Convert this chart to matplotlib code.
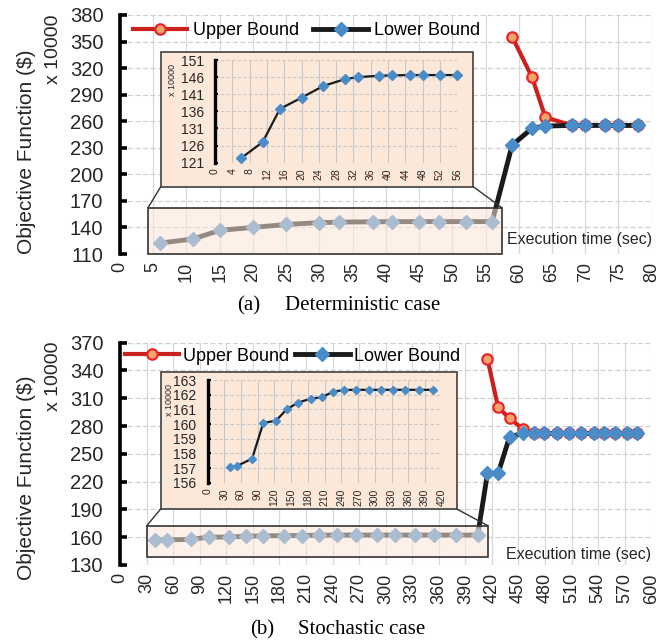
import numpy as np
import matplotlib.pyplot as plt
from matplotlib.patches import Rectangle, ConnectionPatch
from matplotlib.colors import to_rgb

plt.rcParams['font.family'] = ['Liberation Sans', 'DejaVu Sans']

# (a) deterministic case, objective x 10000 $
det_lb_x = [6, 11, 15, 20, 25, 30, 33, 38, 41, 45, 48, 52, 56, 59, 62, 64, 68, 70, 73, 75, 78]
det_lb_y = [122.3, 127.0, 136.7, 140.0, 143.4, 145.4, 146.0, 146.4, 146.5, 146.6, 146.6, 146.6, 146.6,
            233.0, 252.0, 254.5, 255.3, 255.3, 255.3, 255.3, 255.3]
det_ub_x = [59, 62, 64, 68, 70, 73, 75, 78]
det_ub_y = [355.5, 309.6, 264.4, 255.3, 255.3, 255.3, 255.3, 255.3]
det_n_zoom = 13

# (b) stochastic case
sto_lb_x = [40, 53, 80, 100, 123, 142, 162, 185, 205, 225, 245, 267, 290, 311, 333, 355, 380, 404,
            415, 427, 440, 455, 467, 479, 493, 507, 521, 535, 547, 559, 572, 584]
sto_lb_y = [157.05, 157.14, 157.64, 160.07, 160.23, 161.0, 161.45, 161.73, 161.82, 162.2, 162.32,
            162.33, 162.33, 162.33, 162.33, 162.33, 162.33, 162.33,
            229.0, 229.0, 268.5, 272.0, 272.0, 272.0, 272.0, 272.0, 272.0, 272.0, 272.0, 272.0, 272.0, 272.0]
sto_ub_x = [415, 427, 440, 455, 467, 479, 493, 507, 521, 535, 547, 559, 572, 584]
sto_ub_y = [352.4, 300.2, 288.3, 276.8, 272.0, 272.0, 272.0, 272.0, 272.0, 272.0, 272.0, 272.0, 272.0, 272.0]
sto_n_zoom = 18

det_xticks = np.arange(0, 81, 5)
det_yticks = np.arange(110, 381, 30)
det_in_xticks = np.arange(0, 57, 4)
det_in_yticks = np.arange(121, 152, 5)
sto_xticks = np.arange(0, 601, 30)
sto_yticks = np.arange(130, 371, 30)
sto_in_xticks = np.arange(0, 421, 30)
sto_in_yticks = np.arange(156, 164, 1)

W, H = 670, 644
PEACH = '#fbe5d6'
TXT = '#262626'

fig = plt.figure(figsize=(6.7, 6.44), dpi=100)


def fx(px):
    return px / W


def fy(py):
    return 1 - py / H


def main_panel(px_box, xticks, yticks, lb_x, lb_y, ub_x, ub_y, zoom, leg_anchor, leg_pad, leg_col, exec_y):
    x0, y0, x1, y1 = px_box
    ax = fig.add_axes([fx(x0), fy(y1), fx(x1) - fx(x0), fy(y0) - fy(y1)])
    ax.set_xlim(xticks[0], xticks[-1])
    ax.set_ylim(yticks[0], yticks[-1])
    ax.set_xticks(xticks)
    ax.set_yticks(yticks)
    for x in xticks:
        ax.axvline(x, color='#d9d9d9', lw=0.9, zorder=0)
    for y in yticks:
        ax.axhline(y, color='#d0d0d0', lw=0.9, ls=(0, (4, 2)), zorder=0)
    for s in ['top', 'right', 'bottom']:
        ax.spines[s].set_visible(False)
    ax.spines['left'].set_linewidth(2.6)
    ax.tick_params(axis='y', direction='in', length=5, width=2.6, labelsize=14.5, pad=12, labelcolor=TXT)
    ax.tick_params(axis='x', length=0, labelsize=13, pad=6, labelrotation=90, labelcolor=TXT)

    ax.plot(ub_x, ub_y, color='#c9211e', lw=3, marker='o', ms=7.5, mfc='#f4a46c', mec='#e8262a',
            mew=1.6, zorder=3, label='Upper Bound', clip_on=False)
    ax.plot(lb_x, lb_y, color='#1a1a1a', lw=3.5, marker='D', ms=7, mfc='#4a8cc8', mec='#4a8cc8',
            zorder=4, label='Lower Bound', clip_on=False)

    zx0, zy0, zx1, zy1 = zoom
    ax.add_patch(Rectangle((zx0, zy0), zx1 - zx0, zy1 - zy0, facecolor=(*to_rgb(PEACH), 0.55),
                           edgecolor='#333333', lw=1.2, zorder=5, clip_on=False))

    ax.legend(loc='upper left', bbox_to_anchor=leg_anchor, ncol=2, frameon=False, fontsize=13,
              handlelength=3.0, handletextpad=leg_pad, columnspacing=leg_col, borderaxespad=0,
              borderpad=0)
    ax.text(1.0, exec_y, 'Execution time (sec)', transform=ax.transAxes, ha='right', va='center',
            fontsize=11.5, color=TXT)
    return ax


def inset_panel(ax, px_box, px_axes, zoom, xticks, yticks, xs, ys, ms):
    bx0, by0, bx1, by1 = px_box
    fig.add_artist(Rectangle((fx(bx0), fy(by1)), fx(bx1) - fx(bx0), fy(by0) - fy(by1),
                             transform=fig.transFigure, facecolor='#fce8d8', edgecolor='#404040',
                             lw=1.2, zorder=2))
    zx0, zy0, zx1, zy1 = zoom
    for bx, zx in [(bx0, zx0), (bx1, zx1)]:
        fig.add_artist(ConnectionPatch(xyA=(fx(bx), fy(by1)), coordsA=fig.transFigure,
                                       xyB=(zx, zy1), coordsB=ax.transData,
                                       color='#333333', lw=1.0, zorder=2))
    x0, y0, x1, y1 = px_axes
    iax = fig.add_axes([fx(x0), fy(y1), fx(x1) - fx(x0), fy(y0) - fy(y1)], zorder=3)
    iax.patch.set_visible(False)
    iax.set_xlim(xticks[0], xticks[-1])
    iax.set_ylim(yticks[0], yticks[-1])
    iax.set_xticks(xticks)
    iax.set_yticks(yticks)
    for x in xticks:
        iax.axvline(x, color='#c3c9d3', lw=0.8, zorder=0)
    for y in yticks:
        iax.axhline(y, color='#c8c8c8', lw=0.8, ls=(0, (3, 2)), zorder=0)
    for s in ['top', 'right', 'bottom']:
        iax.spines[s].set_visible(False)
    iax.spines['left'].set_linewidth(2.4)
    iax.tick_params(axis='y', direction='in', length=2, width=1.5, labelsize=10, pad=8, labelcolor=TXT)
    iax.tick_params(axis='x', length=0, labelsize=7.5, pad=4, labelrotation=90, labelcolor=TXT)
    iax.plot(xs, ys, color='#1a1a1a', lw=1.6, marker='D', ms=ms, mfc='#4a8cc8', mec='#4a8cc8',
             zorder=3, clip_on=False)
    return iax


# (a)
ax1 = main_panel((120, 15, 651.7, 254), det_xticks, det_yticks, det_lb_x, det_lb_y,
                 det_ub_x, det_ub_y, (4.2, 110, 57.5, 162), (0.024, 0.97), 0.33, 0.8, 0.06)
inset_panel(ax1, (160.7, 51.7, 473.3, 186.7), (215, 60, 457.3, 162.7), (4.2, 110, 57.5, 162),
            det_in_xticks, det_in_yticks, det_lb_x[:det_n_zoom], det_lb_y[:det_n_zoom], 5.5)
fig.text(fx(172.7), fy(80), 'x 10000', rotation=90, ha='center', va='center', fontsize=6.5, color=TXT)

# (b)
ax2 = main_panel((120, 342.7, 651.3, 565), sto_xticks, sto_yticks, sto_lb_x, sto_lb_y,
                 sto_ub_x, sto_ub_y, (30.2, 138.3, 415.5, 172.4), (0.009, 0.978), 0.22, 0.35, 0.048)
inset_panel(ax2, (160.7, 371.7, 456.7, 509), (207.5, 380, 441.7, 482.7), (30.2, 138.3, 415.5, 172.4),
            sto_in_xticks, sto_in_yticks, sto_lb_x[:sto_n_zoom], sto_lb_y[:sto_n_zoom], 4.5)
fig.text(fx(170), fy(400), 'x 10000', rotation=90, ha='center', va='center', fontsize=6.5, color=TXT)

# axis titles
for cy, ky in [(152, 49), (478, 376)]:
    fig.text(fx(27), fy(cy), 'Objective Function ($)', rotation=90, ha='center', va='center',
             fontsize=15, color=TXT)
    fig.text(fx(53), fy(ky), 'x 10000', rotation=90, ha='center', va='center', fontsize=14, color=TXT)

# captions
serif = ['Liberation Serif', 'DejaVu Serif']
fig.text(fx(236.7), fy(306), '(a)', ha='left', va='center', fontsize=15, family=serif)
fig.text(fx(285), fy(306), 'Deterministic case', ha='left', va='center', fontsize=15, family=serif)
fig.text(fx(250), fy(630), '(b)', ha='left', va='center', fontsize=15, family=serif)
fig.text(fx(298), fy(630), 'Stochastic case', ha='left', va='center', fontsize=15, family=serif)

fig.savefig('out.png', dpi=100)
